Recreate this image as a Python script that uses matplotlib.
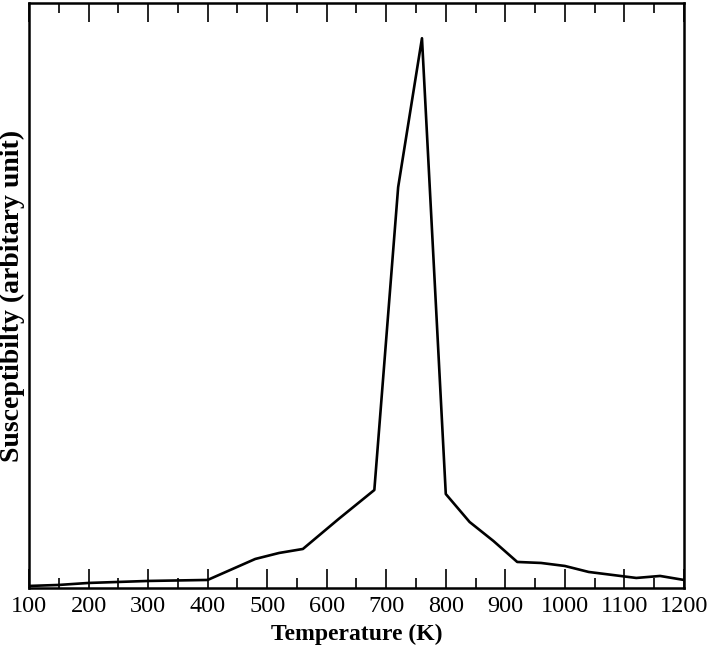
import matplotlib.pyplot as plt
from matplotlib.ticker import MultipleLocator

temperature = [100, 150, 200, 250, 300, 400, 480, 520, 560, 620, 680, 720, 760,
               800, 840, 880, 920, 960, 1000, 1040, 1080, 1120, 1160, 1200]
susceptibility = [2, 3, 5, 6, 7, 8, 29, 35, 39, 69, 98, 401, 550,
                  94, 66, 47, 26, 25, 22, 16, 13, 10, 12, 8]

plt.rcParams["font.family"] = "Liberation Serif"

fig = plt.figure(figsize=(7.08, 6.54), dpi=100)
ax = fig.add_axes([0.041, 0.101, 0.925, 0.894])

ax.plot(temperature, susceptibility, color="black", linewidth=1.9)

ax.set_xlim(100, 1200)
ax.set_ylim(0, 585)
ax.xaxis.set_major_locator(MultipleLocator(100))
ax.xaxis.set_minor_locator(MultipleLocator(50))
ax.tick_params(axis="x", which="both", direction="in", top=True, labelsize=17.5, pad=6)
ax.tick_params(axis="x", which="major", length=14, width=1.2)
ax.tick_params(axis="x", which="minor", length=7, width=1.2)
ax.set_yticks([])
for s in ax.spines.values():
    s.set_linewidth(1.8)

ax.set_xlabel("Temperature (K)", fontsize=17, fontweight="bold", labelpad=5)
ax.set_ylabel("Susceptibilty (arbitary unit)", fontsize=20, fontweight="bold", labelpad=3)

fig.savefig("out.png", dpi=100)
